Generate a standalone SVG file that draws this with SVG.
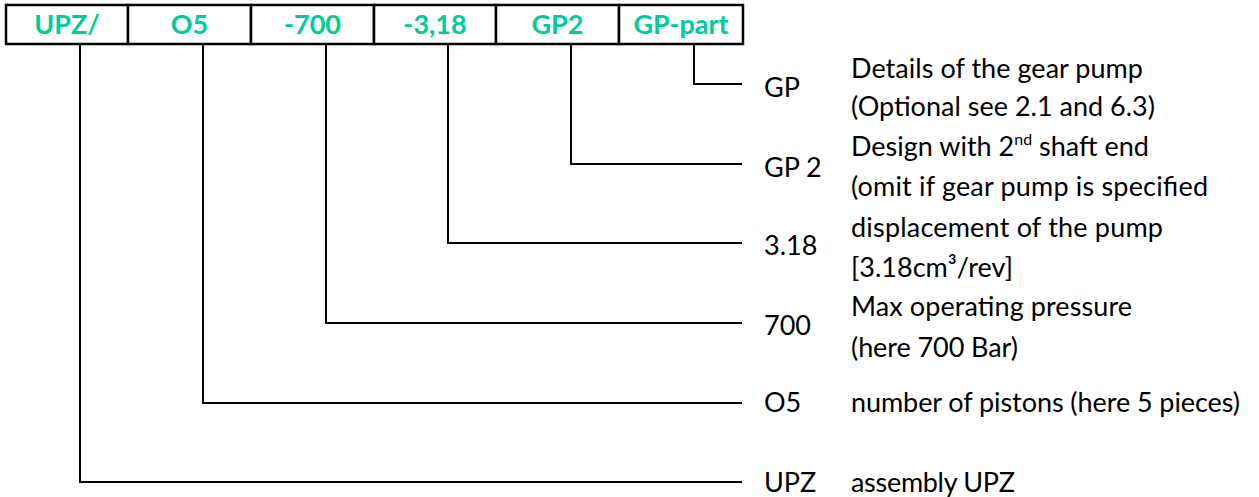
<svg xmlns="http://www.w3.org/2000/svg" width="1259" height="497" viewBox="0 0 1259 497">
<style>
.hdr{font-family:Lato,"Liberation Sans",sans-serif;font-weight:bold;font-size:27px;fill:#00CC99;text-anchor:middle}
.lbl{font-family:Lato,"Liberation Sans",sans-serif;font-size:27px;fill:#000}
.cell{fill:#fff;stroke:#000;stroke-width:2.5}
.con{fill:none;stroke:#000;stroke-width:2}
</style>
<rect width="1259" height="497" fill="#fff"/>
<g id="code-table">
<g id="cell-upz"><rect class="cell" x="6" y="5" width="122" height="39"/><text class="hdr" x="67" y="34">UPZ/</text></g>
<g id="cell-o5"><rect class="cell" x="128" y="5" width="123" height="39"/><text class="hdr" x="189.5" y="34">O5</text></g>
<g id="cell-700"><rect class="cell" x="251" y="5" width="123" height="39"/><text class="hdr" x="312.5" y="34">-700</text></g>
<g id="cell-318"><rect class="cell" x="374" y="5" width="122" height="39"/><text class="hdr" x="435" y="34">-3,18</text></g>
<g id="cell-gp2"><rect class="cell" x="496" y="5" width="123" height="39"/><text class="hdr" x="557.5" y="34">GP2</text></g>
<g id="cell-gppart"><rect class="cell" x="619" y="5" width="124" height="39"/><text class="hdr" x="681" y="34">GP-part</text></g>
</g>
<g id="connectors">
<polyline class="con" points="694,45 694,84 742,84"/>
<polyline class="con" points="571,45 571,164 742,164"/>
<polyline class="con" points="448,45 448,243 742,243"/>
<polyline class="con" points="326,45 326,323 742,323"/>
<polyline class="con" points="203,45 203,403 742,403"/>
<polyline class="con" points="80,45 80,482 742,482"/>
</g>
<g id="item-gp">
<text class="lbl" x="764" y="97">GP</text>
<text class="lbl" x="851" y="78" textLength="292">Details of the gear pump</text>
<text class="lbl" x="851" y="116" textLength="304">(Optional see 2.1 and 6.3)</text>
</g>
<g id="item-gp2">
<text class="lbl" x="764" y="177">GP 2</text>
<text class="lbl" x="851" y="156">Design with 2<tspan font-size="16" dy="-11">nd</tspan><tspan dy="11"> shaft end</tspan></text>
<text class="lbl" x="851" y="196" textLength="357">(omit if gear pump is specified</text>
</g>
<g id="item-318">
<text class="lbl" x="764" y="255">3.18</text>
<text class="lbl" x="851" y="237" textLength="312">displacement of the pump</text>
<text class="lbl" x="851" y="277" textLength="162">[3.18cm³/rev]</text>
</g>
<g id="item-700">
<text class="lbl" x="764" y="335">700</text>
<text class="lbl" x="851" y="316" textLength="281">Max operating pressure</text>
<text class="lbl" x="851" y="357" textLength="167">(here 700 Bar)</text>
</g>
<g id="item-o5">
<text class="lbl" x="764" y="412">O5</text>
<text class="lbl" x="851" y="412" textLength="389">number of pistons (here 5 pieces)</text>
</g>
<g id="item-upz">
<text class="lbl" x="764" y="492">UPZ</text>
<text class="lbl" x="851" y="492" textLength="164">assembly UPZ</text>
</g>
</svg>
